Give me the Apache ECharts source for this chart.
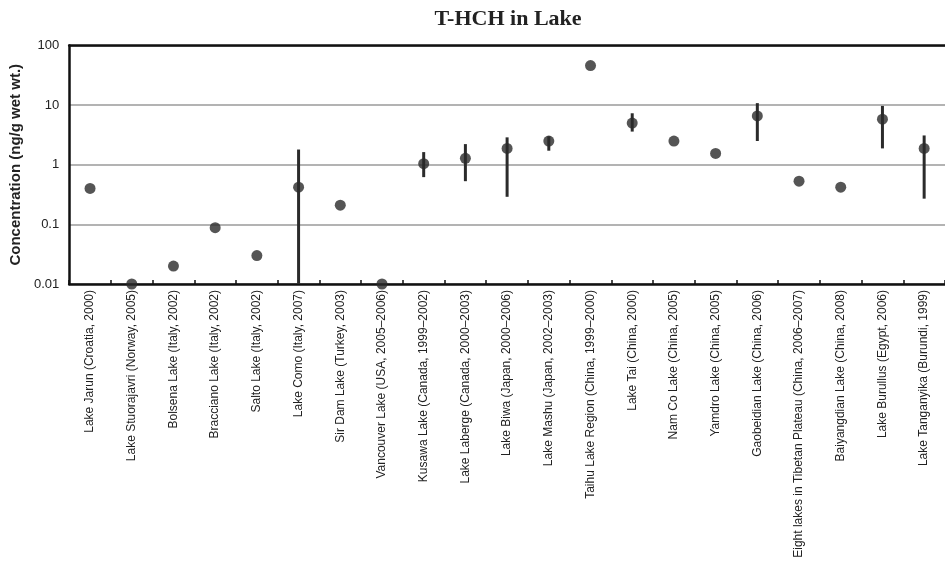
<!DOCTYPE html>
<html>
<head>
<meta charset="utf-8">
<script src="https://cdn.jsdelivr.net/npm/echarts@6/dist/echarts.min.js"></script>
<style>
  html, body { margin: 0; padding: 0; background: #fff; }
  #chart { width: 945px; height: 574px; }
</style>
</head>
<body>
<div id="chart"></div>
<script>
// T-HCH concentrations in lake fish, ng/g wet weight (log scale)
const lakes = [
  'Lake Jarun (Croatia, 2000)',
  'Lake Stuorajavri (Norway, 2005)',
  'Bolsena Lake (Italy, 2002)',
  'Bracciano Lake (Italy, 2002)',
  'Salto Lake (Italy, 2002)',
  'Lake Como (Italy, 2007)',
  'Sir Dam Lake (Turkey, 2003)',
  'Vancouver Lake (USA, 2005\u20132006)',
  'Kusawa Lake (Canada, 1999\u20132002)',
  'Lake Laberge (Canada, 2000\u20132003)',
  'Lake Biwa (Japan, 2000\u20132006)',
  'Lake Mashu (Japan, 2002\u20132003)',
  'Taihu Lake Region (China, 1999\u20132000)',
  'Lake Tai (China, 2000)',
  'Nam Co Lake (China, 2005)',
  'Yamdro Lake (China, 2005)',
  'Gaobeidian Lake (China, 2006)',
  'Eight lakes in Tibetan Plateau (China, 2006\u20132007)',
  'Baiyangdian Lake (China, 2008)',
  'Lake Burullus (Egypt, 2006)',
  'Lake Tanganyika (Burundi, 1999)'
];

// central value per lake
const meanValues = [0.40, 0.01, 0.020, 0.088, 0.030, 0.42, 0.21, 0.01, 1.04, 1.28,
                    1.88, 2.50, 46, 5.0, 2.50, 1.55, 6.6, 0.53, 0.42, 5.8, 1.88];
// range low / high (null where no range is reported)
const rangeLow  = [null, null, null, null, null, 0.01, null, null, 0.62, 0.53,
                   0.29, 1.72, null, 3.6, null, null, 2.5, null, null, 1.88, 0.27];
const rangeHigh = [null, null, null, null, null, 1.8, null, null, 1.63, 2.22,
                   2.88, 3.0, null, 7.3, null, null, 10.8, null, null, 9.7, 3.1];

const yTicks = [0.01, 0.1, 1, 10, 100];

const ink = '#2b2b2b';

const rangeData = [];
lakes.forEach(function (name, i) {
  if (rangeLow[i] !== null && rangeHigh[i] !== null) {
    rangeData.push([i, rangeLow[i], rangeHigh[i]]);
  }
});

const chart = echarts.init(document.getElementById('chart'), null, { renderer: 'canvas' });

chart.setOption({
  animation: false,
  backgroundColor: '#fff',
  title: {
    text: 'T-HCH in Lake',
    left: 503,
    top: 3,
    textAlign: 'center',
    textStyle: {
      fontFamily: 'Liberation Serif',
      fontWeight: 'bold',
      fontSize: 22,
      color: '#222'
    }
  },
  grid: {
    left: 68,
    right: -2,
    top: 45.5,
    bottom: 290,
    show: false
  },
  xAxis: [
    {
      type: 'category',
      data: lakes,
      boundaryGap: true,
      axisLine: { show: true, lineStyle: { color: '#111', width: 2.5 } },
      axisTick: { show: true, inside: true, length: 4, lineStyle: { color: '#111', width: 1.5 } },
      axisLabel: {
        interval: 0,
        rotate: 90,
        margin: 6,
        fontFamily: 'Liberation Sans',
        fontSize: 12,
        color: '#222'
      },
      splitLine: { show: false }
    },
    {
      // frame line along the top of the plot
      type: 'category',
      data: lakes,
      position: 'top',
      axisLine: { show: true, lineStyle: { color: '#111', width: 2.5 } },
      axisTick: { show: false },
      axisLabel: { show: false },
      splitLine: { show: false }
    }
  ],
  yAxis: {
    type: 'log',
    logBase: 10,
    min: 0.01,
    max: 100,
    name: 'Concentration (ng/g wet wt.)',
    nameLocation: 'middle',
    nameRotate: 90,
    nameGap: 41,
    nameTextStyle: {
      fontFamily: 'Liberation Sans',
      fontWeight: 'bold',
      fontSize: 15,
      color: '#222'
    },
    axisLine: { show: true, lineStyle: { color: '#111', width: 2.5 } },
    axisTick: { show: false },
    axisLabel: {
      margin: 10,
      fontFamily: 'Liberation Sans',
      fontSize: 13,
      color: '#222',
      formatter: function (v) {
        const t = yTicks.find(function (k) { return Math.abs(Math.log10(k) - Math.log10(v)) < 1e-6; });
        return t === undefined ? '' : String(t);
      }
    },
    splitLine: { show: true, lineStyle: { color: '#9a9a9a', width: 1.5 } }
  },
  series: [
    {
      name: 'range',
      type: 'custom',
      data: rangeData,
      clip: false,
      z: 3,
      renderItem: function (params, api) {
        const p1 = api.coord([api.value(0), api.value(1)]);
        const p2 = api.coord([api.value(0), api.value(2)]);
        return {
          type: 'line',
          shape: { x1: p1[0], y1: p1[1], x2: p2[0], y2: p2[1] },
          style: { stroke: ink, lineWidth: 3 }
        };
      },
      encode: { x: 0, y: [1, 2] }
    },
    {
      name: 'T-HCH',
      type: 'scatter',
      data: meanValues,
      clip: false,
      symbol: 'circle',
      symbolSize: 11,
      z: 4,
      itemStyle: { color: ink }
    }
  ]
});
</script>
</body>
</html>
